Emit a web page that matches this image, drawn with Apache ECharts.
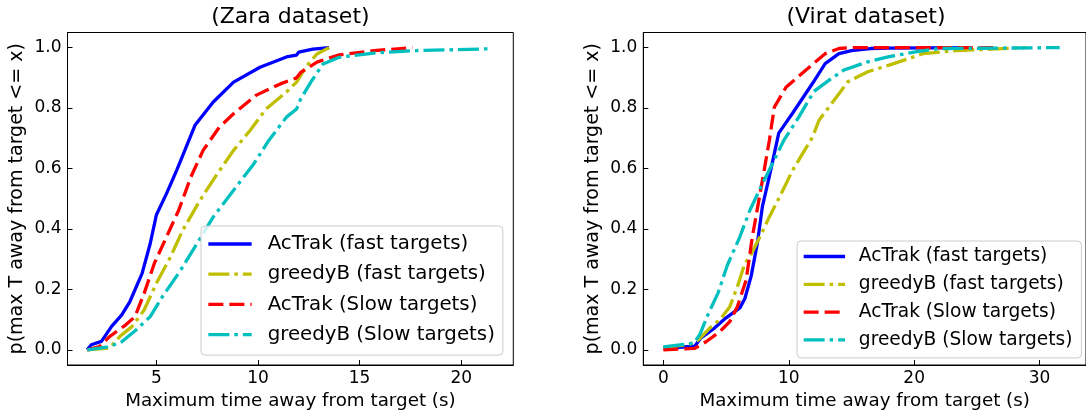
<!DOCTYPE html>
<html>
<head>
<meta charset="utf-8">
<script src="https://cdn.jsdelivr.net/npm/echarts@6/dist/echarts.min.js"></script>
<style>
  html, body { margin: 0; padding: 0; background: #fff; }
  #chart { width: 1086px; height: 416px; }
</style>
</head>
<body>
<div id="chart"></div>
<script>
// names, ticks
const seriesNames = ['AcTrak (fast targets)', 'greedyB (fast targets)', 'AcTrak (Slow targets)', 'greedyB (Slow targets)']
const titles = ['(Zara dataset)', '(Virat dataset)']
const xName = 'Maximum time away from target (s)'
const yName = 'p(max T away from target <= x)'
const yTicks = [0, 0.2, 0.4, 0.6, 0.8, 1.0]
const zaraXTicks = [5, 10, 15, 20]
const viratXTicks = [0, 10, 20, 30]

// Zara dataset: [time, p]
const zaraActrakFast = [[1.6, 0], [1.8, 0.017], [2.3, 0.028], [2.8, 0.078], [3.3, 0.116], [3.7, 0.16], [4.3, 0.253], [4.7, 0.352], [5.0, 0.446], [5.5, 0.517], [6.0, 0.594], [6.4, 0.66], [6.9, 0.743], [7.8, 0.82], [8.8, 0.886], [10.1, 0.935], [11.4, 0.969], [11.9, 0.975], [12.0, 0.985], [12.7, 0.995], [13.5, 1.0]]
const zaraGreedyFast = [[1.6, 0], [2.7, 0.006], [3.2, 0.044], [3.8, 0.077], [4.4, 0.132], [5.0, 0.22], [5.7, 0.308], [6.3, 0.396], [7.15, 0.495], [8.0, 0.583], [8.8, 0.66], [9.6, 0.725], [10.4, 0.797], [11.4, 0.853], [11.9, 0.886], [12.4, 0.94], [12.9, 0.979], [13.5, 1.0]]
const zaraActrakSlow = [[1.6, 0], [2.2, 0.011], [2.7, 0.044], [3.5, 0.083], [3.95, 0.11], [4.4, 0.187], [4.9, 0.286], [5.5, 0.374], [6.1, 0.462], [6.7, 0.572], [7.3, 0.66], [8.1, 0.737], [8.8, 0.781], [9.9, 0.842], [11.1, 0.88], [11.9, 0.9], [12.1, 0.918], [12.9, 0.952], [14.0, 0.976], [15.7, 0.99], [17.6, 1.0]]
const zaraGreedySlow = [[1.6, 0], [2.7, 0.011], [3.3, 0.027], [4.0, 0.066], [4.7, 0.11], [5.3, 0.176], [6.2, 0.264], [7.0, 0.352], [7.8, 0.44], [8.8, 0.528], [9.8, 0.616], [10.5, 0.69], [11.4, 0.77], [11.9, 0.797], [12.1, 0.83], [12.6, 0.886], [13.2, 0.946], [14.0, 0.968], [15.7, 0.982], [17.6, 0.99], [19.6, 0.993], [21.3, 0.996]]

// Virat dataset: [time, p]
const viratActrakFast = [[0, 0.005], [2.5, 0.012], [3.0, 0.04], [4.1, 0.073], [5.0, 0.106], [6.1, 0.139], [6.5, 0.17], [7.0, 0.244], [7.5, 0.354], [7.9, 0.475], [8.45, 0.574], [9.2, 0.717], [10.3, 0.783], [11.9, 0.882], [12.9, 0.947], [14.0, 0.98], [15.0, 0.99], [16.5, 0.997], [18.0, 0.998], [24.5, 1.0]]
const viratGreedyFast = [[0, 0.008], [2.0, 0.017], [2.8, 0.033], [3.7, 0.072], [4.5, 0.1], [5.3, 0.143], [5.9, 0.209], [6.5, 0.286], [6.9, 0.308], [7.7, 0.374], [8.45, 0.44], [9.4, 0.517], [10.3, 0.594], [11.1, 0.649], [11.9, 0.704], [12.4, 0.759], [13.2, 0.803], [14.0, 0.847], [14.7, 0.887], [16.3, 0.92], [18.0, 0.942], [19.6, 0.964], [20.7, 0.98], [23.4, 0.99], [26.1, 0.995], [28.9, 1.0]]
const viratActrakSlow = [[0, 0], [2.5, 0.005], [3.4, 0.027], [4.5, 0.06], [5.3, 0.094], [5.9, 0.143], [6.6, 0.231], [7.1, 0.375], [7.9, 0.561], [8.45, 0.693], [8.85, 0.803], [9.8, 0.87], [11.35, 0.925], [12.9, 0.98], [14.0, 0.997], [15.0, 1.0], [26.3, 1.0]]
const viratGreedySlow = [[0, 0.01], [2.4, 0.022], [2.9, 0.05], [3.6, 0.121], [4.35, 0.187], [5.1, 0.28], [6.1, 0.374], [6.9, 0.462], [7.9, 0.55], [8.7, 0.616], [9.6, 0.693], [10.8, 0.77], [12.0, 0.855], [13.3, 0.895], [14.4, 0.926], [16.3, 0.953], [18.0, 0.97], [20.1, 0.986], [22.0, 0.997], [31.6, 1.0]]

const zaraData = [zaraActrakFast, zaraGreedyFast, zaraActrakSlow, zaraGreedySlow]
const viratData = [viratActrakFast, viratGreedyFast, viratActrakSlow, viratGreedySlow]

const colors = ['#0000ff', '#bfbf00', '#ff0000', '#00bfbf']
const dashes = ['solid', [21, 5, 3.5, 5], [15, 6], [21, 5, 3.5, 5]]
const font = 'DejaVu Sans'

var chart = echarts.init(document.getElementById('chart'), null, { renderer: 'canvas' })

function xAxis(idx, min, max, ticks) {
  return {
    type: 'value',
    gridIndex: idx,
    min: min,
    max: max,
    name: xName,
    nameLocation: 'middle',
    nameGap: 26,
    nameTextStyle: { fontFamily: font, fontSize: 18.3, color: '#000' },
    axisLine: { show: true, onZero: false, lineStyle: { color: '#000', width: 1 } },
    axisTick: { show: true, inside: true, length: 5, customValues: ticks, lineStyle: { color: '#000' } },
    axisLabel: { customValues: ticks, margin: 5, fontFamily: font, fontSize: 17, color: '#000', formatter: v => String(v) },
    splitLine: { show: false }
  }
}

function yAxis(idx) {
  return {
    type: 'value',
    gridIndex: idx,
    min: -0.05,
    max: 1.05,
    name: yName,
    nameLocation: 'middle',
    nameGap: 41,
    nameTextStyle: { fontFamily: font, fontSize: 19, color: '#000' },
    axisLine: { show: true, onZero: false, lineStyle: { color: '#000', width: 1 } },
    axisTick: { show: true, inside: true, length: 5, customValues: yTicks, lineStyle: { color: '#000' } },
    axisLabel: { customValues: yTicks, margin: 6, fontFamily: font, fontSize: 17, color: '#000', formatter: v => v.toFixed(1) },
    splitLine: { show: false }
  }
}

function legend(left, top, fontSize, gap, itemWidth, pad, textPad) {
  return {
    data: seriesNames,
    orient: 'vertical',
    left: left,
    top: top,
    padding: pad,
    itemGap: gap,
    itemWidth: itemWidth,
    itemHeight: 14,
    selectedMode: false,
    backgroundColor: 'rgba(255,255,255,0.8)',
    borderColor: '#cccccc',
    borderWidth: 1,
    borderRadius: 4,
    itemStyle: { opacity: 0 },
    lineStyle: { width: 3.3 },
    textStyle: { fontFamily: font, fontSize: fontSize, lineHeight: fontSize, color: '#000', padding: [0, 0, 0, textPad] }
  }
}

const series = []
;[zaraData, viratData].forEach((set, g) => {
  set.forEach((d, i) => {
    series.push({
      name: seriesNames[i],
      type: 'line',
      xAxisIndex: g,
      yAxisIndex: g,
      data: d,
      symbol: 'none',
      showSymbol: false,
      animation: false,
      lineStyle: { color: colors[i], width: 3.3, type: dashes[i], cap: 'butt' },
      itemStyle: { color: colors[i] }
    })
  })
})

var option = {
  backgroundColor: '#fff',
  animation: false,
  title: [
    { text: titles[0], left: 290.4, top: 6, textAlign: 'center', padding: 0, textStyle: { fontFamily: font, fontSize: 22, fontWeight: 'normal', color: '#000' } },
    { text: titles[1], left: 866, top: 6, textAlign: 'center', padding: 0, textStyle: { fontFamily: font, fontSize: 22, fontWeight: 'normal', color: '#000' } }
  ],
  grid: [
    { left: 67.5, top: 32.5, width: 445.8, height: 332.5, show: true, borderColor: '#000', borderWidth: 1 },
    { left: 643.3, top: 32.5, width: 445.8, height: 332.5, show: true, borderColor: '#000', borderWidth: 1 }
  ],
  legend: [
    legend(201, 226, 19.8, 10.2, 43.3, [8, 8, 10.5, 5.7], 11),
    legend(797, 241, 18.6, 8.8, 41.4, [6, 9, 8.5, 5], 8.8)
  ],
  xAxis: [xAxis(0, 0.63, 22.56, zaraXTicks), xAxis(1, -1.6, 33.7, viratXTicks)],
  yAxis: [yAxis(0), yAxis(1)],
  series: series
}
chart.setOption(option)
</script>
</body>
</html>
